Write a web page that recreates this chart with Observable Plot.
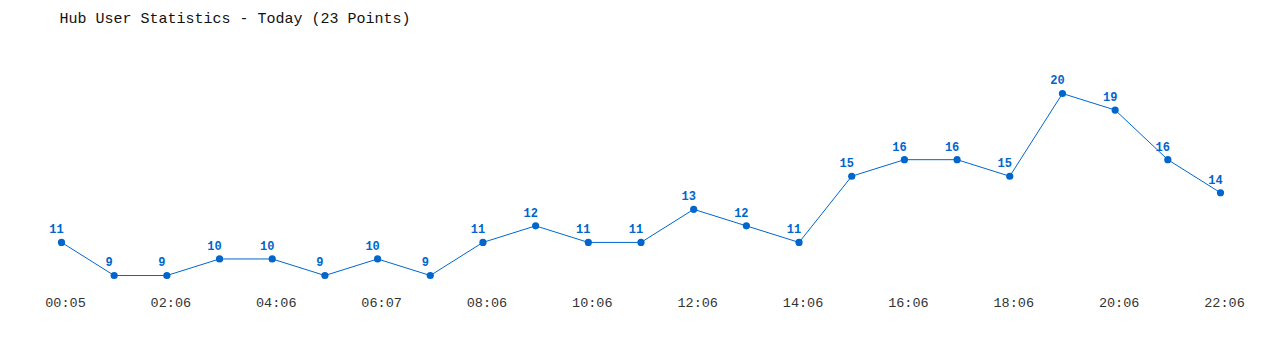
<!DOCTYPE html>
<html>
<head>
<meta charset="utf-8">
<script src="https://cdn.jsdelivr.net/npm/d3@7"></script>
<script src="https://cdn.jsdelivr.net/npm/@observablehq/plot@0.6"></script>
<style>
  html, body { margin: 0; padding: 0; background: #fff; }
  svg text { text-rendering: optimizeSpeed; }
</style>
</head>
<body>
<div id="chart"></div>
<script>
const title = "Hub User Statistics - Today (23 Points)";
const users = [11, 9, 9, 10, 10, 9, 10, 9, 11, 12, 11, 11, 13, 12, 11, 15, 16, 16, 15, 20, 19, 16, 14];
const tickLabels = ["00:05", "02:06", "04:06", "06:07", "08:06", "10:06", "12:06", "14:06", "16:06", "18:06", "20:06", "22:06"];

const data = users.map((v, i) => ({i, v}));
const ticks = tickLabels.map((t, k) => ({i: k * 2, t}));

const blue = "#0066cc";
const chart = Plot.plot({
  width: 1280,
  height: 350,
  marginLeft: 61,
  marginRight: 60,
  marginTop: 93,
  marginBottom: 75,
  style: {fontFamily: "'Liberation Mono', 'DejaVu Sans Mono', monospace", background: "#fff"},
  x: {domain: [0, users.length - 1], axis: null},
  y: {domain: [9, 20], axis: null},
  marks: [
    Plot.line(data, {x: "i", y: "v", stroke: blue, strokeWidth: 1}),
    Plot.dot(data, {x: "i", y: "v", r: 3.6, fill: blue, stroke: "none"}),
    Plot.text(data, {x: "i", y: "v", text: d => String(d.v), dy: -13, dx: -5, fill: blue, fontWeight: "bold", fontSize: 12}),
    Plot.text(ticks, {x: "i", text: "t", frameAnchor: "bottom", dy: 31, dx: 4, fill: "#333", fontSize: 13.5}),
    Plot.text([title], {text: d => d, frameAnchor: "top-left", textAnchor: "start", lineAnchor: "bottom", dx: -2, dy: -71, fill: "#111", fontSize: 15})
  ]
});
document.getElementById("chart").appendChild(chart);
</script>
</body>
</html>
